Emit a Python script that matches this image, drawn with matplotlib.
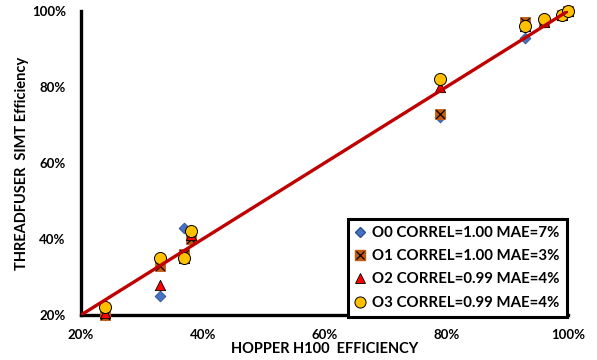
import matplotlib
matplotlib.use("Agg")
import matplotlib.pyplot as plt
from matplotlib.lines import Line2D
from matplotlib.ticker import FuncFormatter

plt.rcParams['font.family'] = ['Lato', 'DejaVu Sans']

# Data (fractions)
x_vals = [0.24, 0.33, 0.37, 0.38, 0.79, 0.93, 0.96, 0.99, 1.00]
o0 = [0.20, 0.25, 0.43, 0.41, 0.72, 0.93, 0.97, 0.99, 1.00]
o1 = [0.20, 0.33, 0.36, 0.40, 0.73, 0.97, 0.97, 0.99, 1.00]
o2 = [0.205, 0.28, 0.35, 0.41, 0.80, 0.96, 0.97, 0.99, 1.00]
o3 = [0.22, 0.35, 0.35, 0.42, 0.82, 0.96, 0.98, 0.99, 1.00]
fit_x = [0.20, 1.00]
fit_y = [0.20, 1.00]
labels = ["O0 CORREL=1.00 MAE=7%", "O1 CORREL=1.00 MAE=3%",
          "O2 CORREL=0.99 MAE=4%", "O3 CORREL=0.99 MAE=4%"]
ticks = [0.2, 0.4, 0.6, 0.8, 1.0]

fig = plt.figure(figsize=(5.97, 3.6), dpi=100)
ax = fig.add_axes([81/597, 1-315/360, (568-81)/597, (315-11)/360])

ax.scatter(x_vals, o0, marker='D', s=30, color='#4472C4', edgecolor='#2F4F8F', linewidth=0.6, zorder=3, clip_on=False)
ax.scatter(x_vals, o1, marker='s', s=60, color='#C55A11', edgecolor='#C55A11', linewidth=0.6, zorder=3, clip_on=False)
ax.scatter(x_vals, o1, marker='x', s=40, color='black', linewidth=0.9, zorder=3, clip_on=False)
ax.scatter(x_vals, o2, marker='^', s=55, color='#FF0000', edgecolor='black', linewidth=0.6, zorder=3, clip_on=False)
ax.scatter(x_vals, o3, marker='o', s=75, color='#FFC000', edgecolor='black', linewidth=0.7, zorder=3, clip_on=False)
ax.plot(fit_x, fit_y, color='#C00000', linewidth=2.4, zorder=4, solid_capstyle='butt')

ax.set_xlim(0.2, 1.0)
ax.set_ylim(0.2, 1.0)
ax.set_xticks(ticks)
ax.set_yticks(ticks)
fmt = FuncFormatter(lambda v, p: f"{round(v*100)}%")
ax.xaxis.set_major_formatter(fmt)
ax.yaxis.set_major_formatter(fmt)
ax.tick_params(length=0, labelsize=9.5)
ax.tick_params(axis='x', pad=10)
ax.tick_params(axis='y', pad=11)
for lab in ax.get_xticklabels() + ax.get_yticklabels():
    lab.set_fontweight('bold')

for s in ['top', 'right']:
    ax.spines[s].set_visible(False)
for s in ['left', 'bottom']:
    ax.spines[s].set_linewidth(2.4)
    ax.spines[s].set_color('black')

ax.set_xlabel("HOPPER H100  EFFICIENCY", fontsize=10.5, fontweight='bold', labelpad=1)
ax.set_ylabel("THREADFUSER  SIMT Efficiency", fontsize=10.5, fontweight='bold', labelpad=2)

h0 = Line2D([], [], marker='D', linestyle='none', markersize=5.5, markerfacecolor='#4472C4', markeredgecolor='#2F4F8F')
h1a = Line2D([], [], marker='s', linestyle='none', markersize=7.5, markerfacecolor='#C55A11', markeredgecolor='#C55A11')
h1b = Line2D([], [], marker='x', linestyle='none', markersize=6, color='black', markeredgewidth=0.9)
h2 = Line2D([], [], marker='^', linestyle='none', markersize=7.5, markerfacecolor='#FF0000', markeredgecolor='black', markeredgewidth=0.6)
h3 = Line2D([], [], marker='o', linestyle='none', markersize=8, markerfacecolor='#FFC000', markeredgecolor='black', markeredgewidth=0.7)
leg = ax.legend([h0, (h1a, h1b), h2, h3], labels, loc='lower right', bbox_to_anchor=(0.997, -0.005),
                borderaxespad=0, fancybox=False, framealpha=1, edgecolor='black',
                prop={'weight': 'bold', 'size': 10.8}, handlelength=0.8, handletextpad=0.4,
                labelspacing=0.62, borderpad=0.45)
leg.get_frame().set_linewidth(2.2)
leg.set_zorder(5)

fig.savefig("out.png", dpi=100)
